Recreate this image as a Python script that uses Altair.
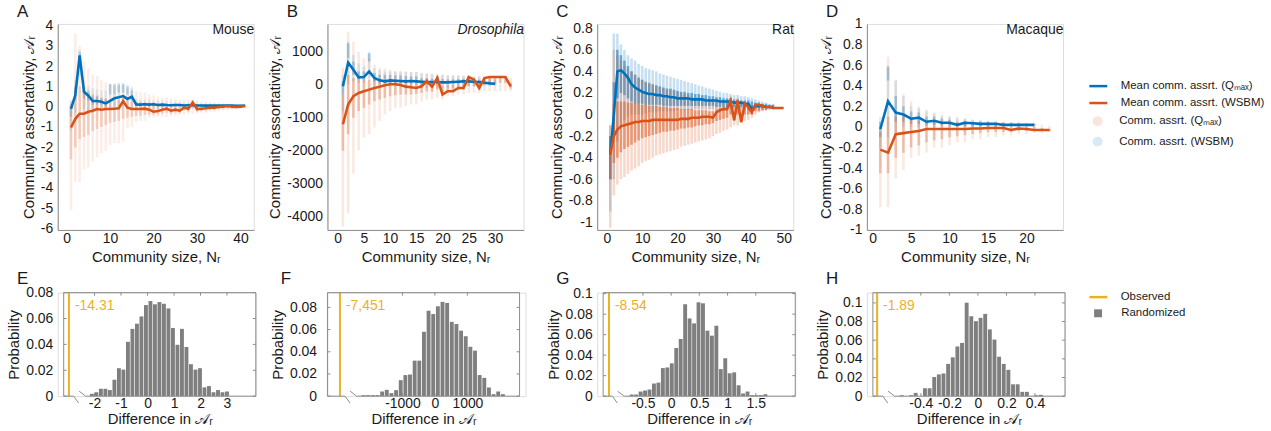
import altair as alt
import pandas as pd

FONT = "Liberation Sans"
BLUE = "#0072BD"
RED = "#D95319"
GOLD = "#EDB120"
GREY = "#7F7F7F"
AXC = "#8C8C8C"
TXT = "#1A1A1A"

Q_MEAN = "Mean comm. assrt. (Qₘₐₓ)"
W_MEAN = "Mean comm. assrt. (WSBM)"
Q_DOT = "Comm. assrt. (Qₘₐₓ)"
W_DOT = "Comm. assrt. (WSBM)"
Y_TITLE = "Community assortativity, 𝒜ᵣ"
X_TITLE = "Community size, Nᵣ"
HX_TITLE = "Difference in 𝒜ᵣ"
HY_TITLE = "Probability"

TW, TH = 197, 207
CW = 199          # bottom view width (column width)
BW, BH = 193, 104 # bottom box size

# ---------------- Panel A (Mouse) ----------------
A_X = list(range(1, 42))
A_Q_Y = [-0.11, 0.57, 2.53, 0.73, 0.54, 0.28, 0.28, 0.24, 0.16, 0.28, 0.41, 0.46, 0.52, 0.38, 0.49, 0.11,
         0.10, 0.12, 0.10, 0.12, 0.08, 0.10, 0.08, 0.07, 0.08, 0.08, 0.06, 0.07, 0.08, 0.06, 0.06, 0.05,
         0.06, 0.05, 0.05, 0.05, 0.05, 0.05, 0.04, 0.04, 0.05]
A_W_Y = [-1.03, -0.6, -0.35, -0.35, -0.25, -0.2, -0.12, -0.15, -0.12, -0.12, -0.1, -0.08, 0.27, -0.05,
         -0.12, -0.12, -0.12, -0.1, -0.15, -0.25, -0.22, -0.15, -0.1, -0.2, -0.15, -0.2, -0.05, -0.1, 0.2,
         -0.12, -0.1, -0.08, -0.05, -0.05, -0.02, 0.0, 0.03, 0.0, -0.02, 0.0, 0.03]
A_R_LO = [-5.1, -3.7, -3.75, -3.1, -3.0, -2.7, -2.5, -2.3, -2.2, -1.9, -1.8, -1.8, -1.7, -1.05, -1.0, -0.75,
          -0.7, -0.7, -0.55, -0.55, -0.5, -0.5, -0.5, -0.45, -0.45, -0.4, -0.4, -0.35, -0.35, -0.35, -0.3,
          -0.3, -0.25, -0.25, -0.2, -0.2, -0.15, -0.15, -0.12, -0.1, -0.1]
A_R_HI = [0.3, 3.6, 3.0, 2.2, 1.9, 1.6, 1.5, 1.3, 1.2, 1.1, 1.0, 1.05, 1.1, 0.9, 0.9, 0.75, 0.7, 0.7, 0.6,
          0.55, 0.5, 0.45, 0.45, 0.4, 0.4, 0.35, 0.35, 0.35, 0.4, 0.3, 0.25, 0.25, 0.2, 0.2, 0.2, 0.15, 0.15,
          0.15, 0.12, 0.12, 0.1]
A_R_CLO = [-2.6, -2.0, -1.6, -1.5, -1.4, -1.2, -1.1, -1.0, -0.9, -0.8, -0.75, -0.7, -0.6, -0.55, -0.5, -0.45,
           -0.45, -0.4, -0.4, -0.4, -0.38, -0.35, -0.3, -0.35, -0.3, -0.32, -0.2, -0.25, -0.1, -0.25, -0.22,
           -0.2, -0.15, -0.15, -0.12, -0.1, -0.08, -0.08, -0.08, -0.06, -0.04]
A_R_CHI = [0.0, 1.0, 1.0, 0.8, 0.7, 0.6, 0.55, 0.45, 0.4, 0.35, 0.35, 0.35, 0.5, 0.3, 0.25, 0.2, 0.2, 0.2,
           0.15, 0.1, 0.1, 0.1, 0.1, 0.05, 0.05, 0.0, 0.1, 0.05, 0.3, 0.02, 0.02, 0.02, 0.03, 0.03, 0.06,
           0.08, 0.1, 0.08, 0.05, 0.06, 0.08]
A_B_LO = [-1.2, -0.3, 1.5, -0.1, -0.3, -0.3, -0.25, -0.2, -0.2, -0.1, 0.0, 0.0, 0.0, 0.0, -0.05, -0.1, -0.1,
          -0.1, -0.1, -0.1, -0.1, -0.05, -0.05, -0.05, -0.05, -0.05, -0.05, 0.0, 0.0, 0.0, 0.0, 0.0, 0.0,
          0.0, 0.0, 0.0, 0.0, 0.0, 0.0, 0.0, 0.0]
A_B_HI = [0.3, 1.3, 2.8, 1.3, 1.0, 0.9, 0.85, 0.8, 0.8, 1.15, 1.15, 1.2, 1.2, 1.1, 1.0, 0.35, 0.35, 0.35,
          0.35, 0.3, 0.3, 0.3, 0.25, 0.25, 0.25, 0.2, 0.2, 0.2, 0.2, 0.15, 0.15, 0.15, 0.15, 0.15, 0.12,
          0.12, 0.12, 0.12, 0.1, 0.1, 0.1]
A_B_CLO = [-0.5, 0.3, 2.0, 0.4, 0.3, 0.1, 0.1, 0.1, 0.0, 0.6, 0.6, 0.7, 0.7, 0.6, 0.3, 0.05, 0.05, 0.05,
           0.05, 0.05, 0.03, 0.03, 0.03, 0.03, 0.03, 0.03, 0.03, 0.03, 0.03, 0.03, 0.03, 0.03, 0.03, 0.03,
           0.03, 0.03, 0.03, 0.02, 0.02, 0.02, 0.02]
A_B_CHI = [0.1, 0.9, 2.7, 1.0, 0.8, 0.5, 0.5, 0.4, 0.35, 1.1, 1.1, 1.1, 1.1, 1.0, 0.8, 0.2, 0.2, 0.2, 0.2,
           0.2, 0.15, 0.15, 0.15, 0.12, 0.12, 0.12, 0.1, 0.1, 0.1, 0.1, 0.1, 0.08, 0.08, 0.08, 0.08, 0.08,
           0.08, 0.07, 0.07, 0.07, 0.07]

# ---------------- Panel B (Drosophila) ----------------
B_QX = list(range(1, 31))
B_Q_Y = [-50, 670, 450, 220, 230, 400, 200, 130, 100, 130, 120, 110, 100, 110, 100, 90, 80, 80, 80, 70,
         70, 80, 90, 100, 100, 90, 80, 60, 40, 30]
B_WX = list(range(1, 34))
B_W_Y = [-1200, -600, -350, -250, -200, -150, -100, -60, -20, 10, 10, -10, -60, -80, -100, -50, 100, -60,
         200, -300, -200, -200, -100, -100, 230, 150, -100, 200, 230, 230, 230, 230, -50]
B_R_LO = [-4300, -3900, -2700, -2000, -1600, -1500, -1300, -1100, -900, -800, -700, -700, -650, -600, -600,
          -500, -450, -450, -400, -450, -350, -350, -300, -300, -250, -250, -250, -200, -200, -200, -200,
          -200, -200]
B_R_HI = [500, 1600, 1300, 1000, 800, 800, 600, 500, 500, 450, 400, 400, 400, 380, 380, 350, 350, 330, 330,
          300, 280, 280, 270, 260, 260, 250, 250, 250, 240, 240, 240, 240, 200]
B_R_CLO = [-2000, -1500, -1000, -800, -700, -600, -500, -450, -400, -350, -320, -300, -300, -300, -280, -250,
           -200, -220, -150, -250, -200, -200, -150, -150, -50, -50, -150, 0, 50, 50, 50, 50, -120]
B_R_CHI = [-300, 300, 200, 150, 150, 150, 150, 150, 150, 150, 150, 130, 120, 110, 100, 100, 200, 100, 250,
           -50, 0, 0, 50, 50, 250, 200, 50, 230, 230, 230, 230, 230, 50]
B_B_LO = [-800, 0, 100, 50, 50, 200, 0, -50, -50, -50, -50, -50, -50, -50, -50, -100, -100, -100, -100,
          -100, -100, -100, -50, -50, -50, -50, -50, -50, -50, -50]
B_B_HI = [300, 1300, 900, 650, 550, 1000, 500, 450, 400, 400, 400, 400, 380, 380, 380, 350, 330, 320, 300,
          300, 280, 280, 280, 280, 270, 250, 250, 220, 200, 150]
B_B_CLO = [-300, 800, 300, 150, 150, 700, 100, 50, 50, 50, 50, 50, 40, 40, 40, 30, 30, 30, 30, 30, 30, 30,
           40, 50, 50, 40, 30, 20, 10, 0]
B_B_CHI = [100, 1250, 700, 400, 400, 950, 350, 300, 300, 300, 280, 280, 260, 250, 250, 200, 180, 180, 180,
           170, 160, 160, 170, 180, 180, 160, 150, 120, 90, 70]

# ---------------- Panel C (Rat) ----------------
C_QX = list(range(1, 48))
C_Q_Y = [-0.37, 0.0, 0.40, 0.41, 0.38, 0.34, 0.28, 0.25, 0.23, 0.21, 0.20, 0.19, 0.19, 0.18, 0.18, 0.17,
         0.17, 0.16, 0.16, 0.15, 0.15, 0.15, 0.15, 0.14, 0.14, 0.14, 0.14, 0.13, 0.13, 0.13, 0.13, 0.12,
         0.12, 0.12, 0.12, 0.11, 0.11, 0.11, 0.10, 0.10, 0.05, 0.08, 0.08, 0.08, 0.07, 0.07, 0.07]
C_WX = list(range(1, 51))
C_W_Y = [-0.37, -0.20, -0.14, -0.11, -0.10, -0.09, -0.08, -0.07, -0.07, -0.06, -0.06, -0.06, -0.05, -0.05,
         -0.05, -0.05, -0.05, -0.05, -0.05, -0.05, -0.04, -0.04, -0.04, -0.03, -0.03, -0.03, -0.02, -0.02,
         -0.02, -0.03, 0.02, 0.04, 0.05, 0.05, 0.13, -0.05, 0.13, -0.07, 0.10, 0.07, 0.02, 0.09, 0.09, 0.08,
         0.07, 0.07, 0.06, 0.06, 0.06, 0.06]
C_RX = list(range(1, 46))
C_R_LO = [-1.05, -0.75, -0.65, -0.6, -0.58, -0.55, -0.52, -0.5, -0.48, -0.45, -0.43, -0.42, -0.4, -0.38,
          -0.37, -0.36, -0.35, -0.34, -0.33, -0.32, -0.3, -0.29, -0.28, -0.27, -0.26, -0.25, -0.24, -0.23,
          -0.22, -0.2, -0.18, -0.17, -0.15, -0.14, -0.12, -0.1, -0.1, -0.08, -0.06, -0.05, -0.03, 0.0, 0.02,
          0.03, 0.04]
C_R_HI = [-0.1, 0.6, 0.55, 0.5, 0.45, 0.42, 0.4, 0.37, 0.35, 0.33, 0.31, 0.3, 0.28, 0.27, 0.26, 0.25, 0.24,
          0.23, 0.22, 0.21, 0.2, 0.19, 0.18, 0.17, 0.16, 0.16, 0.15, 0.15, 0.14, 0.14, 0.13, 0.13, 0.12, 0.12,
          0.15, 0.12, 0.15, 0.1, 0.12, 0.1, 0.09, 0.1, 0.09, 0.08, 0.08]
C_R_CLO = [-0.6, -0.45, -0.4, -0.35, -0.32, -0.3, -0.28, -0.26, -0.24, -0.22, -0.21, -0.2, -0.19, -0.18,
           -0.17, -0.16, -0.16, -0.15, -0.15, -0.14, -0.13, -0.13, -0.12, -0.12, -0.11, -0.1, -0.1, -0.09,
           -0.09, -0.08, -0.06, -0.05, -0.04, -0.03, 0.0, -0.06, 0.0, -0.07, 0.0, 0.0, 0.0, 0.03, 0.03, 0.04,
           0.04]
C_R_CHI = [-0.2, 0.1, 0.12, 0.12, 0.12, 0.11, 0.11, 0.1, 0.1, 0.09, 0.09, 0.08, 0.08, 0.08, 0.07, 0.07, 0.07,
           0.06, 0.06, 0.06, 0.05, 0.05, 0.05, 0.05, 0.04, 0.04, 0.04, 0.04, 0.03, 0.03, 0.05, 0.06, 0.07,
           0.07, 0.13, 0.0, 0.13, -0.03, 0.1, 0.08, 0.04, 0.09, 0.08, 0.07, 0.07]
C_BX = list(range(1, 48))
C_B_LO = [-0.9, -0.6, -0.25, -0.1, -0.05, -0.02, 0.0, 0.0, 0.0, 0.0, 0.01, 0.02, 0.02, 0.02, 0.03, 0.03,
          0.03, 0.03, 0.03, 0.04, 0.04, 0.04, 0.04, 0.04, 0.05, 0.05, 0.05, 0.05, 0.05, 0.05, 0.05, 0.05,
          0.05, 0.05, 0.05, 0.05, 0.05, 0.05, 0.05, 0.04, 0.03, 0.04, 0.04, 0.04, 0.04, 0.04, 0.04]
C_B_HI = [-0.1, 0.75, 0.75, 0.65, 0.6, 0.55, 0.52, 0.5, 0.47, 0.45, 0.43, 0.42, 0.41, 0.4, 0.38, 0.37, 0.36,
          0.35, 0.34, 0.33, 0.32, 0.31, 0.3, 0.29, 0.28, 0.27, 0.26, 0.25, 0.24, 0.23, 0.22, 0.21, 0.2, 0.2,
          0.19, 0.18, 0.18, 0.17, 0.17, 0.16, 0.15, 0.14, 0.13, 0.12, 0.11, 0.1, 0.1]
C_B_CLO = [-0.6, -0.2, 0.15, 0.2, 0.18, 0.15, 0.12, 0.1, 0.1, 0.1, 0.09, 0.09, 0.09, 0.09, 0.09, 0.08, 0.08,
           0.08, 0.08, 0.08, 0.08, 0.08, 0.08, 0.08, 0.08, 0.08, 0.08, 0.08, 0.08, 0.08, 0.07, 0.07, 0.07,
           0.07, 0.07, 0.07, 0.07, 0.07, 0.07, 0.07, 0.05, 0.06, 0.06, 0.06, 0.06, 0.06, 0.06]
C_B_CHI = [-0.2, 0.3, 0.6, 0.55, 0.5, 0.45, 0.4, 0.37, 0.34, 0.32, 0.3, 0.29, 0.28, 0.27, 0.26, 0.25, 0.24,
           0.24, 0.23, 0.22, 0.21, 0.21, 0.2, 0.2, 0.19, 0.19, 0.18, 0.18, 0.17, 0.17, 0.16, 0.16, 0.15,
           0.15, 0.15, 0.14, 0.14, 0.13, 0.13, 0.13, 0.12, 0.11, 0.11, 0.1, 0.1, 0.09, 0.09]

# ---------------- Panel D (Macaque) ----------------
D_QX = list(range(1, 22))
D_Q_Y = [-0.02, 0.25, 0.14, 0.12, 0.08, 0.09, 0.05, 0.06, 0.04, 0.04, 0.02, 0.04, 0.035, 0.03, 0.03, 0.03,
         0.02, 0.02, 0.02, 0.02, 0.02]
D_WX = list(range(1, 24))
D_W_Y = [-0.22, -0.25, -0.07, -0.06, -0.05, -0.04, -0.02, -0.02, -0.02, -0.02, -0.02, -0.02, -0.015,
         -0.015, -0.01, -0.01, -0.01, -0.03, -0.015, -0.02, -0.03, -0.03, -0.03]
D_R_LO = [-0.78, -0.78, -0.5, -0.42, -0.3, -0.28, -0.25, -0.2, -0.2, -0.18, -0.15, -0.15, -0.12, -0.12,
          -0.1, -0.1, -0.08, -0.08, -0.07, -0.07, -0.06, -0.06, -0.05]
D_R_HI = [0.0, 0.68, 0.46, 0.32, 0.25, 0.2, 0.17, 0.14, 0.12, 0.1, 0.1, 0.08, 0.07, 0.06, 0.05, 0.05, 0.05,
          0.04, 0.04, 0.03, 0.03, 0.02, 0.01]
D_R_CLO = [-0.45, -0.45, -0.3, -0.25, -0.2, -0.18, -0.15, -0.13, -0.12, -0.1, -0.09, -0.08, -0.07, -0.06,
           -0.05, -0.05, -0.05, -0.05, -0.04, -0.04, -0.04, -0.04, -0.04]
D_R_CHI = [-0.05, 0.1, 0.1, 0.1, 0.08, 0.06, 0.05, 0.05, 0.04, 0.04, 0.03, 0.03, 0.02, 0.02, 0.02, 0.02,
           0.01, 0.0, 0.01, 0.0, 0.0, -0.01, -0.02]
D_B_LO = [-0.2, -0.1, -0.05, 0.0, 0.0, 0.0, 0.0, 0.0, 0.0, 0.0, 0.0, 0.0, 0.0, 0.0, 0.0, 0.0, 0.0, 0.0, 0.0,
          0.0, 0.0]
D_B_HI = [0.1, 0.6, 0.45, 0.3, 0.2, 0.18, 0.15, 0.13, 0.1, 0.1, 0.08, 0.08, 0.07, 0.07, 0.06, 0.06, 0.05,
          0.05, 0.05, 0.04, 0.04]
D_B_CLO = [-0.1, 0.45, 0.05, 0.05, 0.03, 0.03, 0.02, 0.02, 0.02, 0.02, 0.01, 0.01, 0.01, 0.01, 0.01, 0.01,
           0.01, 0.01, 0.01, 0.01, 0.01]
D_B_CHI = [0.05, 0.58, 0.3, 0.2, 0.15, 0.14, 0.1, 0.1, 0.08, 0.07, 0.05, 0.06, 0.05, 0.05, 0.05, 0.04, 0.04,
           0.04, 0.03, 0.03, 0.03]

# ---------------- Histograms E-H ----------------
E_START, E_STEP = -2.10, 0.17
E_P = [0.0018, 0.003, 0.0057, 0.0057, 0.0047, 0.0127, 0.0216, 0.0205, 0.042, 0.052, 0.056, 0.0616, 0.0704,
       0.0735, 0.071, 0.0727, 0.0714, 0.0678, 0.0527, 0.0397, 0.052, 0.038, 0.0247, 0.0205, 0.0216, 0.0068,
       0.0078, 0.003, 0.0047, 0.003, 0.0036]
F_START, F_STEP = -2197, 143
F_P = [0.0009, 0.0009, 0.0009, 0.0009, 0.0042, 0.0057, 0.0027, 0.0054, 0.0144, 0.019, 0.0195, 0.032, 0.032,
       0.058, 0.077, 0.074, 0.081, 0.085, 0.084, 0.067, 0.065, 0.059, 0.054, 0.0445, 0.041, 0.019, 0.0165,
       0.0078, 0.0018, 0.0042, 0.0018]
G_START, G_STEP = -0.70, 0.079
G_P = [0.0016, 0.0016, 0.0045, 0.0055, 0.0065, 0.0123, 0.0132, 0.0274, 0.028, 0.032, 0.047, 0.0558, 0.0897,
       0.0758, 0.071, 0.0916, 0.0906, 0.0639, 0.059, 0.0687, 0.0264, 0.037, 0.0223, 0.0232, 0.0106, 0.0026,
       0.0045, 0.001, 0.001, 0.001, 0.0019]
H_START, H_STEP = -0.534, 0.0325
H_P = [0.001, 0.0, 0.001, 0.0035, 0.0, 0.0085, 0.0085, 0.0205, 0.0233, 0.0243, 0.0346, 0.0416, 0.0533,
       0.0571, 0.1002, 0.0857, 0.0804, 0.084, 0.0882, 0.0716, 0.0607, 0.0423, 0.0346, 0.0282, 0.0127, 0.0127,
       0.0046, 0.0046, 0.0, 0.001, 0.0014]
OBS = {"E": (-14.31, "-14.31"), "F": (-7451, "-7,451"), "G": (-8.54, "-8.54"), "H": (-1.89, "-1.89")}


def lin(dom):
    return alt.Scale(domain=dom, nice=False, zero=False)


LABEL = "'' + datum.value"


def text_layer(txt, x, y, size, align="left", baseline="alphabetic", style="normal", color=TXT, opacity=1):
    return alt.Chart(pd.DataFrame({"t": [txt]})).mark_text(
        align=align, baseline=baseline, font=FONT, fontSize=size, fontStyle=style, color=color,
        opacity=opacity
    ).encode(x=alt.value(x), y=alt.value(y), text="t:N")


def seg(x1, y1, x2, y2, color=AXC, width=1):
    return alt.Chart(pd.DataFrame({"k": [0]})).mark_rule(color=color, strokeWidth=width).encode(
        x=alt.value(x1), x2=alt.value(x2), y=alt.value(y1), y2=alt.value(y2))


def top_panel(letter, name, italic, xdom, xticks, ydom, yticks, qx, qy, wx, wy,
              rx, rlo, rhi, rclo, rchi, bx, blo, bhi, bclo, bchi, op=(0.10, 0.22), legend=False,
              anchor=False):
    xs, ys = lin(xdom), lin(ydom)
    xax = alt.Axis(values=xticks, title=X_TITLE, labelExpr=LABEL, domainColor=AXC, ticks=False, grid=False,
                   labelFont=FONT, labelFontSize=14, labelColor=TXT, labelPadding=2,
                   titleFont=FONT, titleFontSize=15, titleFontWeight="normal", titleColor=TXT, titlePadding=4)
    yax = alt.Axis(values=yticks, title=Y_TITLE, labelExpr=LABEL, domainColor=AXC, ticks=False, grid=False,
                   labelFont=FONT, labelFontSize=14, labelColor=TXT, labelPadding=5,
                   titleFont=FONT, titleFontSize=15, titleFontWeight="normal", titleColor=TXT, titlePadding=4)

    def X(f):
        return alt.X(f"{f}:Q", scale=xs, axis=xax)

    def Y(f):
        return alt.Y(f"{f}:Q", scale=ys, axis=yax)

    if legend:
        fleg = alt.Legend(title=None, orient="none", legendX=226, legendY=92, symbolType="circle",
                          symbolSize=100, symbolOpacity=0.15, symbolStrokeWidth=0, labelFont=FONT,
                          labelFontSize=11.5, labelColor=TXT, labelOffset=16, rowPadding=7.5, padding=0,
                          labelLimit=400)
        sleg = alt.Legend(title=None, orient="none", legendX=222, legendY=52, symbolType="stroke",
                          symbolSize=324, symbolStrokeWidth=2.5, labelFont=FONT, labelFontSize=11.5,
                          labelColor=TXT, labelOffset=12, rowPadding=1, padding=0, labelLimit=400)
    else:
        fleg = None
        sleg = None
    fill = alt.Fill("s:N", scale=alt.Scale(domain=[Q_DOT, W_DOT], range=[RED, BLUE]), legend=fleg)
    stroke = alt.Stroke("s:N", scale=alt.Scale(domain=[Q_MEAN, W_MEAN], range=[BLUE, RED]), legend=sleg)

    bdf = pd.DataFrame({"x": bx, "lo": blo, "hi": bhi, "clo": bclo, "chi": bchi, "s": W_DOT})
    rdf = pd.DataFrame({"x": rx, "lo": rlo, "hi": rhi, "clo": rclo, "chi": rchi, "s": Q_DOT})
    layers = []
    for df in (bdf, rdf):
        layers.append(alt.Chart(df).mark_bar(size=2.6, opacity=op[0], orient="vertical").encode(
            x=X("x"), y=Y("lo"), y2="hi", fill=fill))
        layers.append(alt.Chart(df).mark_bar(size=2.6, opacity=op[1], orient="vertical").encode(
            x=X("x"), y=Y("clo"), y2="chi", fill=fill))
    qdf = pd.DataFrame({"x": qx, "y": qy, "s": Q_MEAN})
    wdf = pd.DataFrame({"x": wx, "y": wy, "s": W_MEAN})
    for df in (qdf, wdf):
        layers.append(alt.Chart(df).mark_line(strokeWidth=2.6).encode(x=X("x"), y=Y("y"), stroke=stroke))
    layers.append(text_layer(letter, -41, -7, 17))
    layers.append(text_layer(name, TW + 0.5, 6, 14, align="right", baseline="middle",
                             style="italic" if italic else "normal"))
    if anchor:
        layers.append(text_layer(".", -57, -22, 6, baseline="top", opacity=0))
    return alt.layer(*layers).properties(width=TW, height=TH)


def bottom_panel(letter, key, off, start, step, probs, ydom, yticks, pw_dom, pw_rng, xticks, brk,
                 legend=False):
    rng = [off + r for r in pw_rng]
    xs = alt.Scale(domain=pw_dom, range=rng, nice=False, zero=False)
    ys = lin(ydom)
    xax = alt.Axis(values=xticks, title=HX_TITLE, labelExpr=LABEL, domain=False, ticks=False, grid=False,
                   labelFont=FONT, labelFontSize=14, labelColor=TXT, labelPadding=0,
                   titleFont=FONT, titleFontSize=15, titleFontWeight="normal", titleColor=TXT, titlePadding=1)
    yax = alt.Axis(values=yticks, title=HY_TITLE, labelExpr=LABEL, domain=False, ticks=False, grid=False,
                   labelFont=FONT, labelFontSize=14, labelColor=TXT, labelPadding=11 - off,
                   titleFont=FONT, titleFontSize=15, titleFontWeight="normal", titleColor=TXT, titlePadding=4)

    def X(f):
        return alt.X(f"{f}:Q", scale=xs, axis=xax)

    def Y(f):
        return alt.Y(f"{f}:Q", scale=ys, axis=yax)

    if legend:
        fleg = alt.Legend(title=None, orient="none", legendX=226.5, legendY=15, symbolType="square",
                          symbolSize=64, symbolStrokeWidth=0, symbolOpacity=1, labelFont=FONT,
                          labelFontSize=11.5, labelColor=TXT, labelOffset=17.5, padding=0)
        sleg = alt.Legend(title=None, orient="none", legendX=222, legendY=-6, symbolType="stroke",
                          symbolSize=324, symbolStrokeWidth=2.5, labelFont=FONT, labelFontSize=11.5,
                          labelColor=TXT, labelOffset=12, padding=0)
    else:
        fleg = None
        sleg = None
    centers = [start + i * step for i in range(len(probs))]
    hdf = pd.DataFrame({"x": centers, "p": probs, "s": "Randomized"})
    obs_val, obs_txt = OBS[key]
    odf = pd.DataFrame({"x": [obs_val], "lab": [obs_txt], "s": ["Observed"]})

    bars = alt.Chart(hdf).mark_bar(size=3.9, orient="vertical").encode(
        x=X("x"), y=Y("p"),
        fill=alt.Fill("s:N", scale=alt.Scale(domain=["Randomized"], range=[GREY]), legend=fleg))
    rule = alt.Chart(odf).mark_rule(strokeWidth=2).encode(
        x=X("x"), stroke=alt.Stroke("s:N", scale=alt.Scale(domain=["Observed"], range=[GOLD]), legend=sleg))
    otext = alt.Chart(odf).mark_text(align="left", baseline="middle", dx=6, font=FONT, fontSize=14,
                                     color=GOLD).encode(x=X("x"), y=alt.value(13), text="lab:N")
    xt = pd.DataFrame({"v": xticks})
    yt = pd.DataFrame({"v": yticks})
    tk = dict(color=AXC, strokeWidth=1)
    left, right = off, off + BW
    ticks = [
        alt.Chart(xt).mark_rule(**tk).encode(x=X("v"), y=alt.value(BH), y2=alt.value(BH - 3)),
        alt.Chart(xt).mark_rule(**tk).encode(x=X("v"), y=alt.value(0), y2=alt.value(3)),
        alt.Chart(yt).mark_rule(**tk).encode(y=Y("v"), x=alt.value(left), x2=alt.value(left + 3)),
        alt.Chart(yt).mark_rule(**tk).encode(y=Y("v"), x=alt.value(right), x2=alt.value(right - 3)),
    ]
    a, c = brk
    box = [
        seg(left, 0, right, 0),
        seg(left, 0, left, BH),
        seg(right, 0, right, BH),
        seg(left, BH, left + a, BH),
        seg(left + c, BH, right, BH),
        seg(left + a, BH, left + a + 5, BH + 7),
        seg(left + c - 6.5, BH - 5, left + c, BH),
    ]
    letter_l = text_layer(letter, off - 47, -9, 17)
    return alt.layer(bars, *ticks, rule, otext, *box, letter_l).properties(width=CW, height=BH)


A = top_panel("A", "Mouse", False, [-0.9, 41.9], [0, 10, 20, 30, 40], [-6.08, 4.08],
              [-6, -5, -4, -3, -2, -1, 0, 1, 2, 3, 4], A_X, A_Q_Y, A_X, A_W_Y,
              A_X, A_R_LO, A_R_HI, A_R_CLO, A_R_CHI, A_X, A_B_LO, A_B_HI, A_B_CLO, A_B_CHI,
              op=(0.10, 0.22), anchor=True)
B = top_panel("B", "Drosophila", True, [-1.0, 34.5], [0, 5, 10, 15, 20, 25, 30], [-4400, 1840],
              [-4000, -3000, -2000, -1000, 0, 1000], B_QX, B_Q_Y, B_WX, B_W_Y,
              B_WX, B_R_LO, B_R_HI, B_R_CLO, B_R_CHI, B_QX, B_B_LO, B_B_HI, B_B_CLO, B_B_CHI,
              op=(0.13, 0.3))
C = top_panel("C", "Rat", False, [-1.3, 51.3], [0, 10, 20, 30, 40, 50], [-1.07, 0.84],
              [-1, -0.8, -0.6, -0.4, -0.2, 0, 0.2, 0.4, 0.6, 0.8], C_QX, C_Q_Y, C_WX, C_W_Y,
              C_RX, C_R_LO, C_R_HI, C_R_CLO, C_R_CHI, C_BX, C_B_LO, C_B_HI, C_B_CLO, C_B_CHI,
              op=(0.22, 0.5))
D = top_panel("D", "Macaque", False, [-0.1, 24.1], [0, 5, 10, 15, 20], [-1.0, 1.0],
              [-1, -0.8, -0.6, -0.4, -0.2, 0, 0.2, 0.4, 0.6, 0.8, 1], D_QX, D_Q_Y, D_WX, D_W_Y,
              D_WX, D_R_LO, D_R_HI, D_R_CLO, D_R_CHI, D_QX, D_B_LO, D_B_HI, D_B_CLO, D_B_CHI,
              op=(0.13, 0.3), legend=True)

E = bottom_panel("E", "E", 6, E_START, E_STEP, E_P, [0, 0.08], [0, 0.02, 0.04, 0.06, 0.08],
                 [-14.6, -13.0, -2.45, 3.59], [0, 14, 19, BW], [-2, -1, 0, 1, 2, 3], (10, 22))
F = bottom_panel("F", "F", 0, F_START, F_STEP, F_P, [0, 0.0933], [0, 0.02, 0.04, 0.06, 0.08],
                 [-7670, -7000, -2420, 2333], [0, 24, 29, BW], [-1000, 0, 1000], (17.7, 29.3))
G = bottom_panel("G", "G", 6, G_START, G_STEP, G_P, [0, 0.101], [0, 0.02, 0.04, 0.06, 0.08, 0.1],
                 [-8.62, -7.9, -0.835, 1.912], [0, 16, 21, BW], [-0.5, 0, 0.5, 1, 1.5], (9.3, 21))
H = bottom_panel("H", "H", 6, H_START, H_STEP, H_P, [0, 0.111], [0, 0.02, 0.04, 0.06, 0.08, 0.1],
                 [-1.92, -1.6, -0.583, 0.543], [0, 17, 22, BW], [-0.4, -0.2, 0, 0.2, 0.4], (10, 21.7),
                 legend=True)

chart = alt.concat(
    A, B, C, D, E, F, G, H, columns=4, bounds="flush",
    spacing=alt.RowColnumber(row=63, column=72),
).resolve_scale(stroke="independent", fill="independent").properties(
    padding={"left": 0, "top": 0, "right": 5, "bottom": 5}
).configure_view(stroke=None).configure(background="white")

chart.save("out.html", embed_options={"renderer": "svg", "actions": False})
